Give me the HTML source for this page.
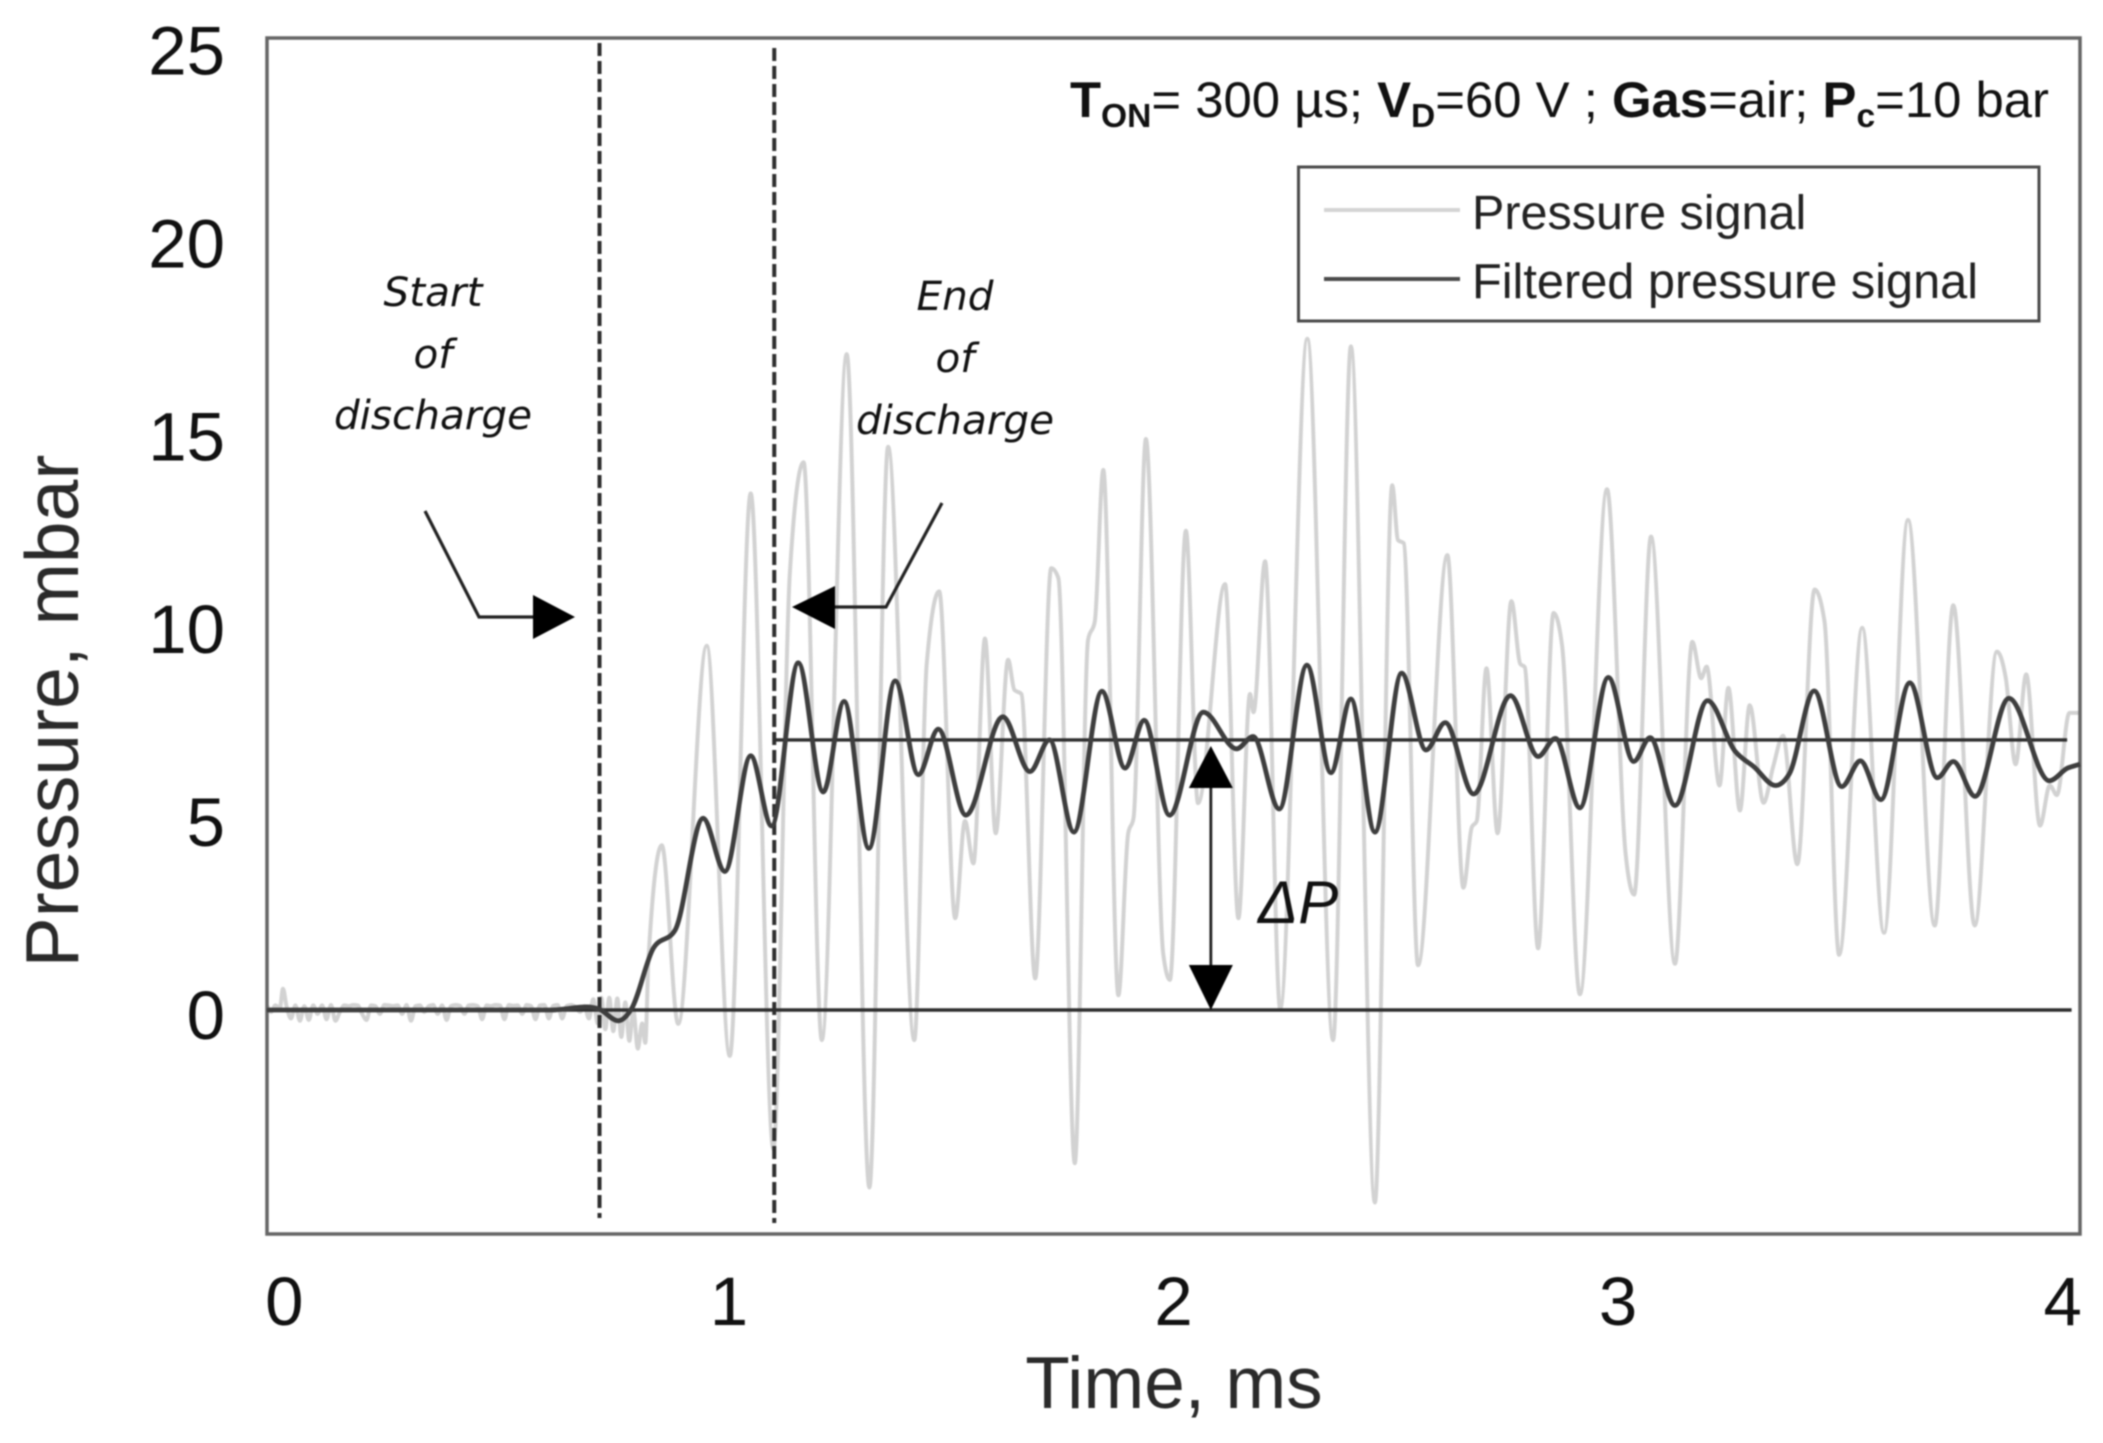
<!DOCTYPE html>
<html lang="en">
<head>
<meta charset="utf-8">
<title>Pressure signal during discharge</title>
<style>
html,body{margin:0;padding:0;background:#fff;}
#chart{display:block;width:2103px;height:1443px;filter:blur(0.9px);}
text{fill:#111;}
</style>
</head>
<body>
<svg id="chart" xmlns="http://www.w3.org/2000/svg" width="2103" height="1443" viewBox="0 0 2103 1443">
  <rect x="0" y="0" width="2103" height="1443" fill="#fff"/>
  <g id="series-layer"></g>
  <rect x="267" y="38" width="1813" height="1196" fill="none" stroke="#666" stroke-width="3.5"/>
  <g id="ref-layer"></g>
  <g id="tick-layer" font-family="'Liberation Sans',sans-serif" font-size="69"></g>

  <text x="1174" y="1408" text-anchor="middle" font-family="'Liberation Sans',sans-serif" font-size="73" style="fill:#2a2a2a">Time, ms</text>
  <text transform="translate(78,711) rotate(-90)" text-anchor="middle" font-family="'Liberation Sans',sans-serif" font-size="75" style="fill:#2a2a2a">Pressure, mbar</text>

  <text x="1070" y="117" font-family="'Liberation Sans',sans-serif" font-size="50" textLength="979" lengthAdjust="spacingAndGlyphs"><tspan font-weight="bold">T</tspan><tspan font-weight="bold" font-size="33" dy="10">ON</tspan><tspan dy="-10">= 300 µs; </tspan><tspan font-weight="bold">V</tspan><tspan font-weight="bold" font-size="33" dy="10">D</tspan><tspan dy="-10">=60 V ; </tspan><tspan font-weight="bold">Gas</tspan><tspan>=air; </tspan><tspan font-weight="bold">P</tspan><tspan font-weight="bold" font-size="33" dy="10">c</tspan><tspan dy="-10">=10 bar</tspan></text>

  <g>
    <rect x="1298.5" y="167" width="740.5" height="154" fill="#fff" stroke="#4a4a4a" stroke-width="3"/>
    <line x1="1324" x2="1460" y1="210" y2="210" stroke="#d4d4d4" stroke-width="4"/>
    <text x="1472" y="229" font-family="'Liberation Sans',sans-serif" font-size="48.5" style="fill:#222">Pressure signal</text>
    <line x1="1324" x2="1460" y1="279" y2="279" stroke="#4a4a4a" stroke-width="4"/>
    <text x="1472" y="298" font-family="'Liberation Sans',sans-serif" font-size="48.7" style="fill:#222">Filtered pressure signal</text>
  </g>

  <g font-family="'DejaVu Sans',sans-serif" font-style="italic" font-size="40.5">
    <text x="433" y="306" text-anchor="middle">Start</text>
    <text x="433" y="368" text-anchor="middle">of</text>
    <text x="433" y="429" text-anchor="middle">discharge</text>
    <polyline points="425,511 479,617 535,617" fill="none" stroke="#222" stroke-width="3.2"/>
    <polygon points="575,617 533,595 533,639" fill="#000"/>
  </g>
  <g font-family="'DejaVu Sans',sans-serif" font-style="italic" font-size="40.5">
    <text x="955" y="310" text-anchor="middle">End</text>
    <text x="955" y="372" text-anchor="middle">of</text>
    <text x="955" y="434" text-anchor="middle">discharge</text>
    <polyline points="942,503 886,607 834,607" fill="none" stroke="#222" stroke-width="3.2"/>
    <polygon points="792,607 835,586 835,629" fill="#000"/>
  </g>
  <g id="delta-layer"></g>
  <text x="1258" y="923" font-family="'Liberation Sans',sans-serif" font-style="italic" font-size="60">ΔP</text>
</svg>
<script>
const xTicks = [0, 1, 2, 3, 4];
const yTicks = [0, 5, 10, 15, 20, 25];
const dischargeStart = 0.709;
const dischargeEnd = 1.102;
const meanPressure = 7.0;
const deltaTime = 2.084;

const baselineTimes = [
  -0.038,-0.03,-0.02,-0.01,-0.003,0.005,0.015,0.025,0.035,0.045,
  0.055,0.065,0.075,0.085,0.095,0.105,0.115,0.125,0.135,0.145,
  0.155,0.165,0.175,0.185,0.195,0.205,0.215,0.225,0.235,0.245,
  0.255,0.265,0.275,0.285,0.295,0.305,0.315,0.325,0.335,0.345,
  0.355,0.365,0.375,0.385,0.395,0.405,0.415,0.425,0.435,0.445,
  0.455,0.465,0.475,0.485,0.495,0.505,0.515,0.525,0.535,0.545,
  0.555,0.565,0.575,0.585,0.595,0.605,0.615,0.625,0.635,0.645,
  0.655,0.665,0.675,0.685,0.695,0.705,0.713,0.722,0.731,0.740,
  0.749,0.758,0.767,0.776,0.785,0.795,0.805,0.812
];
const baselineValues = [
  0.1,-0.05,0.12,0.05,0.55,0.1,-0.22,0.12,-0.28,0.1,
  -0.26,0.12,-0.1,0.12,-0.24,0.13,-0.28,-0.05,0.12,0.1,
  0.13,0.12,-0.1,-0.26,0.12,0.1,-0.1,0.13,0.12,0.1,
  0.12,-0.1,0.13,-0.28,0.1,0.12,-0.05,0.1,0.13,-0.1,
  0.12,-0.26,0.1,0.13,0.11,-0.1,0.12,0.13,0.1,-0.24,
  0.12,0.1,0.13,0.12,-0.24,0.13,0.11,0.12,-0.1,0.13,
  0.1,-0.24,0.12,0.13,-0.22,0.11,0.13,-0.22,0.1,0.13,
  0.08,-0.05,0.1,-0.22,0.28,-0.35,0.32,-0.5,0.32,-0.55,
  0.3,-0.7,0.2,-0.8,0.0,-1.0,-0.35,-0.85
];
const oscillationTimes = [0.819,0.849,0.886,0.950,1.002,1.049,1.100,1.137,1.168,1.209,1.265,1.316,1.358,1.417,1.445,1.473,1.509,1.531,1.550,1.576,1.600,1.628,1.642,1.658,1.689,1.725,1.741,1.778,1.808,1.823,1.842,1.876,1.898,1.910,1.938,1.977,1.992,2.028,2.055,2.116,2.146,2.172,2.180,2.206,2.240,2.301,2.359,2.399,2.453,2.492,2.505,2.518,2.550,2.616,2.652,2.671,2.682,2.704,2.729,2.760,2.780,2.790,2.820,2.855,2.874,2.914,2.975,3.017,3.036,3.074,3.128,3.167,3.187,3.199,3.228,3.248,3.274,3.296,3.327,3.349,3.371,3.403,3.442,3.464,3.497,3.549,3.598,3.652,3.712,3.754,3.802,3.852,3.872,3.894,3.918,3.949,3.971,3.987,4.015,4.039];
const oscillationValues = [1.3,4.27,-0.36,9.44,-1.19,13.39,-3.6,11.3,14.2,-0.78,17.0,-4.6,14.6,-0.78,8.97,10.85,2.38,4.9,3.8,9.63,4.58,9.08,8.3,8.19,0.82,11.45,11.2,-3.97,9.6,10.07,14.0,0.38,4.58,4.97,14.8,1.44,0.78,12.42,5.36,11.04,2.38,8.19,7.72,11.63,0.03,17.4,-0.78,17.2,-4.99,13.6,12.18,12.1,1.16,11.79,3.17,4.74,4.89,8.86,4.58,10.6,8.97,8.89,1.6,10.29,9.44,0.41,13.5,4.03,2.99,12.27,1.2,9.54,8.6,8.9,5.82,8.35,5.17,7.9,5.37,6.32,7.11,3.78,10.9,10.09,1.43,9.91,2.0,12.7,2.19,10.49,2.19,9.29,8.6,6.37,8.7,4.78,5.82,5.57,7.7,7.7];

const filteredTimes = [-0.038,0.3,0.6,0.68,0.7085,0.751,0.781,0.830,0.879,0.942,0.991,1.049,1.096,1.156,1.212,1.259,1.315,1.374,1.426,1.471,1.533,1.616,1.677,1.721,1.776,1.839,1.891,1.934,1.991,2.067,2.142,2.179,2.238,2.300,2.354,2.399,2.453,2.513,2.568,2.611,2.675,2.758,2.820,2.859,2.914,2.978,3.035,3.072,3.128,3.201,3.263,3.306,3.354,3.385,3.441,3.503,3.545,3.591,3.656,3.718,3.754,3.803,3.879,3.970,4.011,4.039];
const filteredValues = [0.0,0.0,0.0,0.08,0.02,-0.28,0.03,1.6,2.07,4.97,3.59,6.59,4.77,9.0,5.65,8.0,4.19,8.53,6.10,7.28,5.05,7.6,6.18,7.0,4.61,8.26,6.27,7.51,5.05,7.72,6.77,7.09,5.21,8.94,6.15,8.06,4.61,8.73,6.74,7.45,5.6,8.15,6.57,7.04,5.24,8.62,6.44,7.06,5.30,8.02,6.71,6.30,5.82,6.12,8.27,5.79,6.46,5.45,8.48,6.02,6.44,5.54,8.08,5.94,6.27,6.37];

const SVGNS = 'http://www.w3.org/2000/svg';
const xScale = t => 284.3 + 444.6 * t;
const yScale = v => 1010 - 38.58 * v;

function make(parent, tag, attrs) {
  const el = document.createElementNS(SVGNS, tag);
  for (const k in attrs) el.setAttribute(k, attrs[k]);
  parent.appendChild(el);
  return el;
}

function monotonePath(times, values) {
  const n = times.length;
  const px = times.map(xScale);
  const py = values.map(yScale);
  const d = [];
  for (let i = 0; i < n - 1; i++) d.push((py[i + 1] - py[i]) / (px[i + 1] - px[i]));
  const m = new Array(n).fill(0);
  m[0] = d[0];
  m[n - 1] = d[n - 2];
  for (let i = 1; i < n - 1; i++) {
    if (d[i - 1] * d[i] > 0) {
      const h0 = px[i] - px[i - 1];
      const h1 = px[i + 1] - px[i];
      const p = (d[i - 1] * h1 + d[i] * h0) / (h0 + h1);
      m[i] = (Math.sign(d[i - 1]) + Math.sign(d[i])) * Math.min(Math.abs(d[i - 1]), Math.abs(d[i]), 0.5 * Math.abs(p));
    }
  }
  let path = 'M' + px[0].toFixed(1) + ' ' + py[0].toFixed(1);
  for (let i = 0; i < n - 1; i++) {
    const h = (px[i + 1] - px[i]) / 3;
    path += 'C' + (px[i] + h).toFixed(1) + ' ' + (py[i] + m[i] * h).toFixed(1) + ' ' +
      (px[i + 1] - h).toFixed(1) + ' ' + (py[i + 1] - m[i + 1] * h).toFixed(1) + ' ' +
      px[i + 1].toFixed(1) + ' ' + py[i + 1].toFixed(1);
  }
  return path;
}

const seriesLayer = document.getElementById('series-layer');
const refLayer = document.getElementById('ref-layer');
const tickLayer = document.getElementById('tick-layer');
const deltaLayer = document.getElementById('delta-layer');

const rawLine = make(seriesLayer, 'path', {d: monotonePath(baselineTimes.concat(oscillationTimes), baselineValues.concat(oscillationValues)), fill: 'none', stroke: '#d2d2d2', 'stroke-width': 4});



const zeroLine = make(refLayer, 'line', {x1: 267, x2: xScale(4.02), y1: yScale(0), y2: yScale(0), stroke: '#2e2e2e', 'stroke-width': 3.4});



const meanLine = make(refLayer, 'line', {x1: xScale(dischargeEnd), x2: xScale(4.01), y1: yScale(meanPressure), y2: yScale(meanPressure), stroke: '#2e2e2e', 'stroke-width': 3.4});



const startLine = make(refLayer, 'line', {x1: xScale(dischargeStart), x2: xScale(dischargeStart), y1: 43, y2: 1218, stroke: '#2e2e2e', 'stroke-width': 4, 'stroke-dasharray': '13 5'});



const endLine = make(refLayer, 'line', {x1: xScale(dischargeEnd), x2: xScale(dischargeEnd), y1: 48, y2: 1223, stroke: '#2e2e2e', 'stroke-width': 4, 'stroke-dasharray': '13 5'});



const filteredLine = make(refLayer, 'path', {d: monotonePath(filteredTimes, filteredValues), fill: 'none', stroke: '#3e3e3e', 'stroke-width': 4.8});



xTicks.forEach(t => {
  const label = make(tickLayer, 'text', {x: xScale(t), y: 1325, 'text-anchor': 'middle'});
  
  
  label.textContent = String(t);
});
yTicks.forEach(v => {
  const label = make(tickLayer, 'text', {x: 225, y: yScale(v) + 29, 'text-anchor': 'end'});
  
  
  label.textContent = String(v);
});

const dx = xScale(deltaTime);
const dTop = yScale(meanPressure) + 6;
const dBottom = yScale(0);
const deltaShaft = make(deltaLayer, 'line', {x1: dx, x2: dx, y1: dTop + 30, y2: dBottom - 30, stroke: '#222', 'stroke-width': 2.8});


const deltaTop = make(deltaLayer, 'polygon', {points: dx + ',' + dTop + ' ' + (dx - 22) + ',' + (dTop + 42) + ' ' + (dx + 22) + ',' + (dTop + 42), fill: '#000'});


const deltaBottom = make(deltaLayer, 'polygon', {points: dx + ',' + dBottom + ' ' + (dx - 22) + ',' + (dBottom - 45) + ' ' + (dx + 22) + ',' + (dBottom - 45), fill: '#000'});


</script>
</body>
</html>
